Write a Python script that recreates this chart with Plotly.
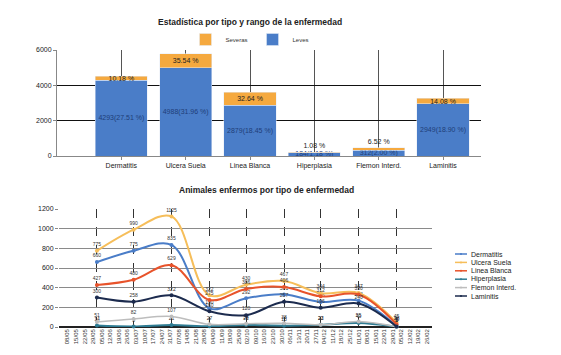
import plotly.graph_objects as go

# ---------- top chart data ----------
categories = ["Dermatitis", "Ulcera Suela", "Linea Blanca", "Hiperplasia", "Flemon Interd.", "Laminitis"]
leves = [4293, 4988, 2879, 184, 312, 2949]
leves_pct = [27.51, 31.96, 18.45, 1.18, 2.00, 18.90]
severas = [229, 800, 735, 24, 147, 317]
severas_pct = [10.18, 35.54, 32.64, 1.08, 6.52, 14.08]

# ---------- bottom chart data ----------
months = ["2011-06-01", "2011-07-01", "2011-08-01", "2011-09-01", "2011-10-01",
          "2011-11-01", "2011-12-01", "2012-01-01", "2012-02-01"]
dermatitis = [660, 775, 835, 190, 292, 331, 255, 268, 10]
ulcera_suela = [775, 990, 1125, 322, 430, 467, 344, 347, 45]
linea_blanca = [427, 480, 629, 275, 386, 406, 312, 330, 28]
hiperplasia = [14, 5, 21, 7, 21, 13, 23, 40, 3]
flemon = [51, 82, 107, 27, 34, 38, 22, 55, 2]
laminitis = [300, 258, 322, 160, 120, 257, 196, 240, 5]

month_grid = ["2011-05-01", "2011-06-01", "2011-07-01", "2011-08-01", "2011-09-01", "2011-10-01",
              "2011-11-01", "2011-12-01", "2012-01-01", "2012-02-01", "2012-03-01"]
week_ticks = ["2011-05-08", "2011-05-15", "2011-05-22", "2011-05-29", "2011-06-05", "2011-06-12",
              "2011-06-19", "2011-06-26", "2011-07-03", "2011-07-10", "2011-07-17", "2011-07-24",
              "2011-07-31", "2011-08-07", "2011-08-14", "2011-08-21", "2011-08-28", "2011-09-04",
              "2011-09-11", "2011-09-18", "2011-09-25", "2011-10-02", "2011-10-09", "2011-10-16",
              "2011-10-23", "2011-10-30", "2011-11-06", "2011-11-13", "2011-11-20", "2011-11-27",
              "2011-12-04", "2011-12-11", "2011-12-18", "2011-12-25", "2012-01-01", "2012-01-08",
              "2012-01-15", "2012-01-22", "2012-01-29", "2012-02-05", "2012-02-12", "2012-02-19",
              "2012-02-26"]
week_labels = [d[8:10] + "/" + d[5:7] for d in week_ticks]

FONT = "Liberation Sans"
OFF = 8  # page body margin
W, H = 561 - OFF, 355 - OFF

def px_x(p):
    return (p - OFF) / W

def px_y(p):
    return 1 - (p - OFF) / H

fig = go.Figure()

# ---- stacked bars ----
fig.add_trace(go.Bar(
    x=categories, y=leves, name="Leves", marker_color="#4A7DC8",
    text=[f"{v}({p:.2f} %)" for v, p in zip(leves, leves_pct)],
    textposition="inside", insidetextanchor="middle", textangle=0, constraintext="none",
    textfont=dict(size=7, color="#1F3E78", family=FONT),
    width=0.81, legend="legend", xaxis="x", yaxis="y",
))
fig.add_trace(go.Bar(
    x=categories, y=severas, name="Severas", marker_color="#F5A93F",
    text=[f"{p:.2f} %" for p in severas_pct],
    textposition=["inside", "inside", "inside", "outside", "outside", "inside"],
    insidetextanchor="middle", textangle=0, constraintext="none", cliponaxis=False,
    textfont=dict(size=7, color="#222", family=FONT),
    width=0.81, legend="legend", xaxis="x", yaxis="y",
))

# ---- lines ----
series = [
    ("Dermatitis", dermatitis, "#4A7DC8", 2),
    ("Ulcera Suela", ulcera_suela, "#F6BE5A", 2),
    ("Linea Blanca", linea_blanca, "#E8532B", 2),
    ("Hiperplasia", hiperplasia, "#2F7C93", 2),
    ("Flemon Interd.", flemon, "#BDBDBD", 1.5),
    ("Laminitis", laminitis, "#1C2B4E", 2),
]
shapes = []
annotations = [
    dict(text="<b>Estadística por tipo y rango de la enfermedad</b>", x=px_x(250), y=px_y(15),
         xref="paper", yref="paper", showarrow=False, font=dict(size=8.5, color="#222")),
    dict(text="<b>Animales enfermos por tipo de enfermedad</b>", x=px_x(266), y=px_y(190),
         xref="paper", yref="paper", showarrow=False, font=dict(size=8.5, color="#222")),
]
for i, (name, vals, col, w) in enumerate(series):
    fig.add_trace(go.Scatter(
        x=months, y=vals, name=name, mode="lines+markers+text",
        line=dict(color=col, width=w, shape="spline", smoothing=1),
        marker=dict(size=4, color=col),
        text=[str(v) for v in vals], textposition="top center",
        textfont=dict(size=5, color="#333", family=FONT),
        showlegend=False, xaxis="x2", yaxis="y2", cliponaxis=False,
    ))
    # custom compact legend for the line chart
    ly = 254 + 8.4 * i
    shapes.append(dict(type="line", xref="paper", yref="paper",
                       x0=px_x(455), x1=px_x(467), y0=px_y(ly), y1=px_y(ly),
                       line=dict(color=col, width=1.5)))
    shapes.append(dict(type="circle", xref="paper", yref="paper",
                       x0=px_x(460), x1=px_x(462), y0=px_y(ly - 1), y1=px_y(ly + 1),
                       fillcolor=col, line=dict(color=col, width=0)))
    annotations.append(dict(text=name, x=px_x(469), y=px_y(ly), xref="paper", yref="paper",
                            xanchor="left", yanchor="middle", showarrow=False,
                            font=dict(size=7, color="#222")))

fig.update_layout(
    width=W, height=H, margin=dict(l=0, r=0, t=0, b=0, autoexpand=False),
    paper_bgcolor="white", plot_bgcolor="white",
    font=dict(family=FONT, size=7, color="#222"),
    barmode="stack",
    xaxis=dict(domain=[px_x(57), px_x(481)], range=[-1, 5.59], showgrid=True,
               gridcolor="#555", gridwidth=1, showline=True, linecolor="#888",
               ticks="outside", ticklen=3, tickcolor="#888", automargin=False,
               tickfont=dict(size=7, color="#222")),
    yaxis=dict(domain=[px_y(156), px_y(50)], range=[0, 6000], tickvals=[0, 2000, 4000, 6000],
               showgrid=True, gridcolor="#111", gridwidth=1, showline=True, linecolor="#888",
               ticks="outside", ticklen=3, tickcolor="#888", zeroline=False, automargin=False,
               tickfont=dict(size=7, color="#222")),
    xaxis2=dict(domain=[px_x(59), px_x(432)], type="date",
                range=["2011-05-01", "2012-03-01"], anchor="y2", automargin=False,
                tickmode="array", tickvals=week_ticks, ticktext=week_labels, tickangle=-90,
                tickfont=dict(size=6, color="#333"), showgrid=False, showline=False,
                minor=dict(tickvals=month_grid, showgrid=True, gridcolor="#333",
                           griddash="dash", gridwidth=1)),
    yaxis2=dict(domain=[px_y(327), px_y(209)], range=[0, 1200], anchor="x2", automargin=False,
                tickvals=[0, 200, 400, 600, 800, 1000, 1200],
                showgrid=True, gridcolor="#8A8A8A", gridwidth=1, zeroline=True,
                zerolinecolor="#222", zerolinewidth=1.5, ticks="outside", ticklen=3,
                tickcolor="#888", tickfont=dict(size=7, color="#222")),
    legend=dict(orientation="h", x=px_x(250), xanchor="center", y=px_y(25), yanchor="top",
                traceorder="reversed", font=dict(size=6, color="#333"), itemwidth=30,
                bgcolor="rgba(0,0,0,0)"),
    shapes=shapes,
    annotations=annotations,
    showlegend=True,
)

fig.write_html("out.html")
